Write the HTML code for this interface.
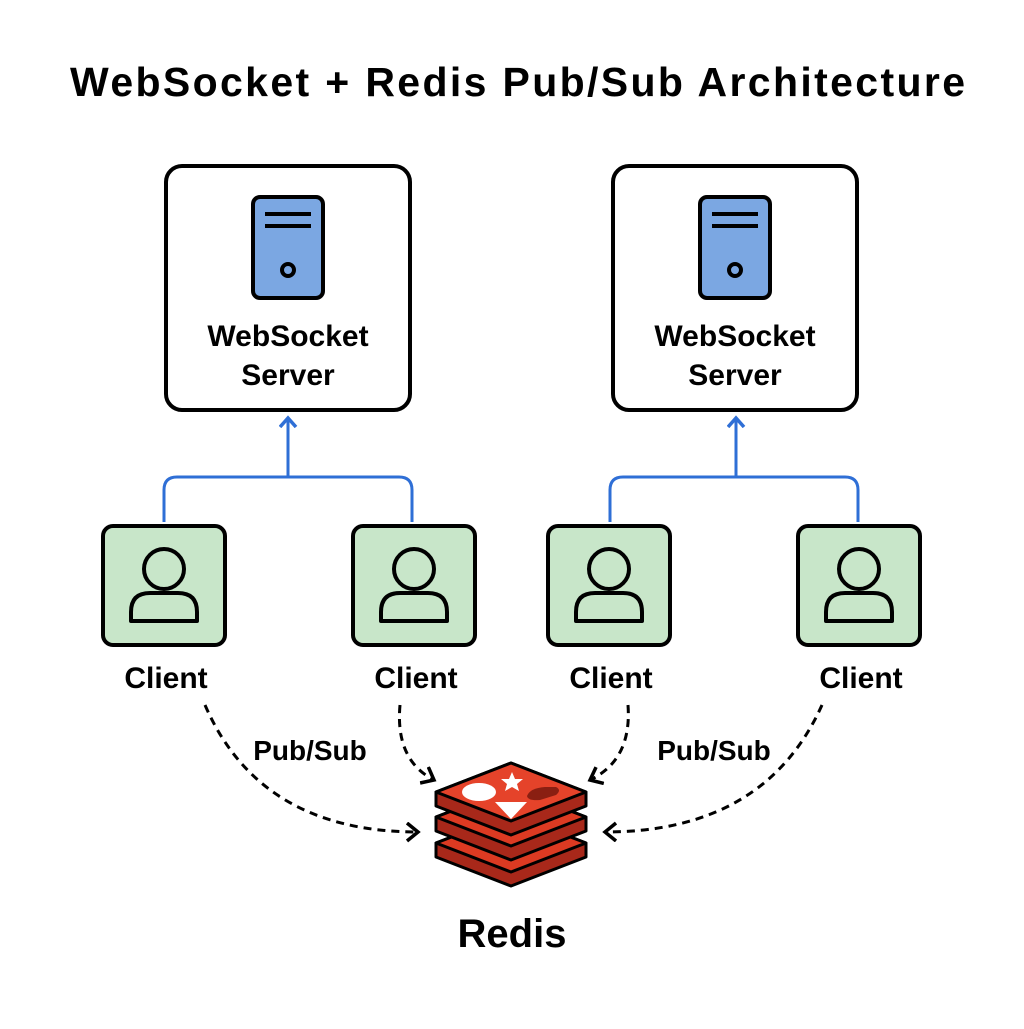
<!DOCTYPE html>
<html><head><style>
body{margin:0;background:#fff;}
</style></head><body>
<svg width="1024" height="1024" viewBox="0 0 1024 1024" xmlns="http://www.w3.org/2000/svg" font-family="Liberation Sans, sans-serif" font-weight="bold">
<defs>
<marker id="ab" markerWidth="18" markerHeight="20" refX="10" refY="9" orient="auto" markerUnits="userSpaceOnUse"><path d="M1,1 L10,9 L1,17" fill="none" stroke="#2f6fd6" stroke-width="3.5"/></marker>
<marker id="ak" markerWidth="20" markerHeight="22" refX="12" refY="10" orient="auto" markerUnits="userSpaceOnUse"><path d="M1,1 L12,10 L1,19" fill="none" stroke="#000" stroke-width="3.5"/></marker>
<g id="srv">
<rect x="166" y="166" width="244" height="244" rx="16" fill="#fff" stroke="#000" stroke-width="4"/>
<rect x="253" y="197" width="70" height="101" rx="7" fill="#7ba7e2" stroke="#000" stroke-width="4"/>
<line x1="265" y1="214" x2="311" y2="214" stroke="#000" stroke-width="4"/>
<line x1="265" y1="226" x2="311" y2="226" stroke="#000" stroke-width="4"/>
<circle cx="288" cy="270" r="6" fill="none" stroke="#000" stroke-width="4"/>
<text x="288" y="346" font-size="30" text-anchor="middle">WebSocket</text>
<text x="288" y="385" font-size="30" text-anchor="middle">Server</text>
</g>
<g id="cli">
<rect x="103" y="526" width="122" height="119" rx="10" fill="#c8e6c9" stroke="#000" stroke-width="4"/>
<circle cx="164" cy="569" r="20" fill="none" stroke="#000" stroke-width="4"/>
<path d="M131,621 L131,612 Q131,593 150,593 L178,593 Q197,593 197,612 L197,621 Z" fill="none" stroke="#000" stroke-width="4" stroke-linejoin="round"/>
<text x="166" y="688" font-size="30" text-anchor="middle">Client</text>
</g>
</defs>
<text x="70" y="96" font-size="41" textLength="895" lengthAdjust="spacing">WebSocket + Redis Pub/Sub Architecture</text>
<use href="#srv"/>
<use href="#srv" x="447"/>
<use href="#cli"/>
<use href="#cli" x="250"/>
<use href="#cli" x="445"/>
<use href="#cli" x="695"/>
<g fill="none" stroke="#2f6fd6" stroke-width="3">
<path d="M164,522 V490 Q164,477 177,477 H399 Q412,477 412,490 V522"/>
<path d="M288,477 V418" marker-end="url(#ab)"/>
<path d="M610,522 V490 Q610,477 623,477 H845 Q858,477 858,490 V522"/>
<path d="M736,477 V418" marker-end="url(#ab)"/>
</g>
<g fill="none" stroke="#000" stroke-width="3" stroke-dasharray="8,6">
<path d="M205,705 Q260,832 418,832" marker-end="url(#ak)"/>
<path d="M400,705 Q395,760 434,780" marker-end="url(#ak)"/>
<path d="M628,705 Q632,760 590,780" marker-end="url(#ak)"/>
<path d="M822,705 Q765,832 605,832" marker-end="url(#ak)"/>
</g>
<text x="310" y="760" font-size="28" text-anchor="middle">Pub/Sub</text>
<text x="714" y="760" font-size="28" text-anchor="middle">Pub/Sub</text>
<g stroke="#000" stroke-width="3" stroke-linejoin="round">
<path d="M436,843 L511,814 L586,843 L586,857 L511,886 L436,857 Z" fill="#a8281a"/>
<path d="M436,843 L511,872 L586,843 L511,814 Z" fill="#dc3a22"/>
<path d="M436,817 L511,788 L586,817 L586,831 L511,860 L436,831 Z" fill="#a8281a"/>
<path d="M436,817 L511,846 L586,817 L511,788 Z" fill="#dc3a22"/>
<path d="M436,792 L511,763 L586,792 L586,806 L511,835 L436,806 Z" fill="#a8281a"/>
<path d="M436,792 L511,821 L586,792 L511,763 Z" fill="#e5432a"/>
</g>
<ellipse cx="479" cy="792" rx="17" ry="9" fill="#fff"/>
<path d="M495,802 L527,802 L511,819 Z" fill="#fff"/>
<path d="M512,772 L515,779 L523,779 L517,784 L519,791 L512,787 L505,791 L507,784 L501,779 L509,779 Z" fill="#fff"/>
<path d="M527,796 Q530,788 545,787 L556,787 Q562,790 556,795 L540,800 Q528,801 527,796 Z" fill="#8a1f12"/>
<text x="512" y="947" font-size="40" text-anchor="middle">Redis</text>
</svg>
</body></html>
